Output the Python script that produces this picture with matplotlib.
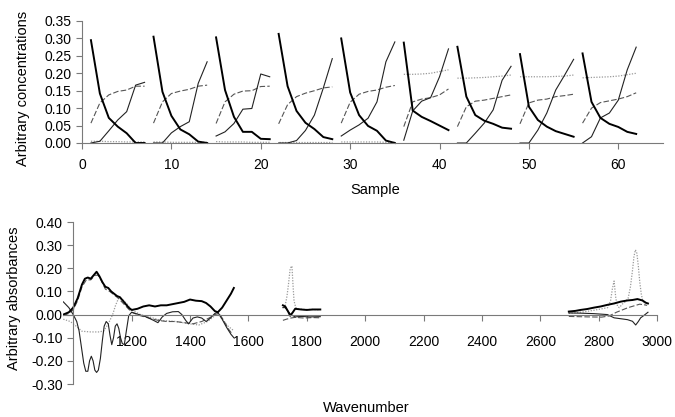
import numpy as np
import matplotlib
matplotlib.use('Agg')
import matplotlib.pyplot as plt
from matplotlib.ticker import FormatStrFormatter

plt.rcParams['font.family'] = ['Liberation Sans', 'DejaVu Sans']
plt.rcParams['axes.unicode_minus'] = False

# --- top panel: concentrations per sample, 9 batches ---
batch_start = [1, 8, 15, 22, 29, 36, 42, 49, 56]

thick_conc = [
    [0.295, 0.142, 0.072, 0.047, 0.028, 0.0, 0.0],
    [0.305, 0.147, 0.078, 0.039, 0.025, 0.004, 0.0],
    [0.303, 0.152, 0.075, 0.032, 0.032, 0.012, 0.011],
    [0.313, 0.163, 0.092, 0.058, 0.040, 0.017, 0.011],
    [0.300, 0.145, 0.080, 0.049, 0.035, 0.007, 0.0],
    [0.288, 0.093, 0.075, 0.063, 0.050, 0.037],
    [0.276, 0.133, 0.080, 0.064, 0.055, 0.044, 0.041],
    [0.255, 0.104, 0.066, 0.047, 0.034, 0.026, 0.018],
    [0.257, 0.118, 0.072, 0.055, 0.046, 0.032, 0.026],
]
dash_conc = [
    [0.057, 0.115, 0.138, 0.148, 0.152, 0.163, 0.163],
    [0.057, 0.118, 0.142, 0.149, 0.154, 0.163, 0.166],
    [0.056, 0.118, 0.140, 0.149, 0.150, 0.162, 0.163],
    [0.055, 0.110, 0.133, 0.143, 0.150, 0.158, 0.161],
    [0.057, 0.117, 0.140, 0.148, 0.152, 0.160, 0.165],
    [0.047, 0.118, 0.126, 0.130, 0.138, 0.155],
    [0.047, 0.104, 0.120, 0.123, 0.128, 0.133, 0.138],
    [0.055, 0.115, 0.123, 0.126, 0.133, 0.136, 0.140],
    [0.057, 0.100, 0.116, 0.121, 0.126, 0.133, 0.144],
]
thin_conc = [
    [0.0, 0.005, 0.035, 0.066, 0.090, 0.166, 0.174],
    [0.0, 0.0, 0.029, 0.047, 0.061, 0.171, 0.233],
    [0.020, 0.032, 0.056, 0.097, 0.099, 0.198, 0.190],
    [0.0, 0.0, 0.007, 0.036, 0.080, 0.158, 0.242],
    [0.020, 0.037, 0.052, 0.071, 0.118, 0.233, 0.290],
    [0.008, 0.092, 0.120, 0.130, 0.190, 0.270],
    [0.0, 0.0, 0.028, 0.057, 0.095, 0.180, 0.220],
    [0.0, 0.0, 0.037, 0.086, 0.152, 0.195, 0.240],
    [0.0, 0.018, 0.072, 0.086, 0.123, 0.210, 0.275],
]
dot_conc = [
    [0.005, 0.005, 0.004, 0.004, 0.003, 0.003, 0.003],
    [0.003, 0.003, 0.002, 0.002, 0.002, 0.002, 0.002],
    [0.004, 0.003, 0.003, 0.003, 0.002, 0.002, 0.002],
    [0.002, 0.002, 0.002, 0.002, 0.002, 0.002, 0.002],
    [0.003, 0.003, 0.003, 0.003, 0.003, 0.002, 0.002],
    [0.197, 0.197, 0.198, 0.200, 0.205, 0.210],
    [0.186, 0.186, 0.187, 0.188, 0.190, 0.192, 0.195],
    [0.190, 0.190, 0.190, 0.190, 0.191, 0.192, 0.195],
    [0.187, 0.188, 0.189, 0.190, 0.192, 0.196, 0.200],
]

# --- bottom panel: spectra in three wavenumber windows ---
thick1_wn = [966, 985, 1000, 1015, 1030, 1040, 1050, 1060, 1070, 1080, 1090, 1100, 1110, 1120,
             1130, 1140, 1150, 1160, 1170, 1180, 1190, 1200, 1220, 1240, 1260, 1280, 1300, 1320,
             1340, 1360, 1380, 1400, 1420, 1440, 1455, 1470, 1485, 1495, 1510, 1525, 1540, 1550]
thick1_ab = [0.0, 0.01, 0.03, 0.07, 0.13, 0.155, 0.16, 0.155, 0.17, 0.185, 0.165, 0.14, 0.12, 0.115,
             0.10, 0.09, 0.08, 0.075, 0.06, 0.045, 0.03, 0.02, 0.025, 0.035, 0.04, 0.035, 0.04, 0.04,
             0.045, 0.05, 0.055, 0.065, 0.06, 0.058, 0.05, 0.035, 0.015, 0.01, 0.03, 0.06, 0.09, 0.115]
thin1_wn = [966, 985, 1000, 1012, 1020, 1028, 1036, 1043, 1050, 1056, 1062, 1068, 1074, 1080,
            1086, 1093, 1100, 1106, 1113, 1120, 1126, 1132, 1138, 1144, 1150, 1156, 1162, 1168,
            1175, 1182, 1190, 1200, 1225, 1250, 1275, 1290, 1305, 1320, 1340, 1360, 1372, 1385,
            1395, 1410, 1425, 1440, 1455, 1470, 1485, 1495, 1510, 1525, 1540, 1550]
thin1_ab = [0.055, 0.03, 0.0, -0.03, -0.07, -0.14, -0.21, -0.245, -0.245, -0.2, -0.18, -0.2, -0.24, -0.25,
            -0.24, -0.19, -0.11, -0.05, -0.03, -0.04, -0.09, -0.13, -0.1, -0.05, -0.04, -0.06, -0.1, -0.125,
            -0.13, -0.07, -0.005, 0.01, 0.0, -0.01, -0.025, -0.035, -0.01, 0.005, 0.012, 0.013, 0.0, -0.025,
            -0.04, -0.015, -0.01, -0.015, -0.03, -0.015, 0.005, 0.01, -0.02, -0.055, -0.085, -0.1]
dash1_wn = [966, 985, 1000, 1015, 1030, 1045, 1060, 1075, 1085, 1095, 1110, 1125, 1140, 1155, 1170,
            1185, 1200, 1230, 1260, 1290, 1320, 1350, 1380, 1410, 1440, 1465, 1485, 1500, 1515, 1530, 1545]
dash1_ab = [-0.005, 0.005, 0.02, 0.06, 0.12, 0.15, 0.15, 0.17, 0.17, 0.15, 0.11, 0.1, 0.085, 0.07, 0.05,
            0.03, 0.01, -0.005, -0.015, -0.025, -0.03, -0.03, -0.035, -0.04, -0.03, -0.015, 0.0, 0.005,
            -0.025, -0.06, -0.085]
dot1_wn = [966, 990, 1010, 1030, 1060, 1090, 1105, 1120, 1135, 1145, 1155, 1170, 1185, 1200, 1230,
           1260, 1300, 1350, 1400, 1430, 1460, 1480, 1495, 1510, 1530, 1550]
dot1_ab = [-0.02, -0.03, -0.05, -0.072, -0.075, -0.075, -0.07, -0.04, 0.0, 0.04, 0.07, 0.065, 0.045, 0.02, 0.0,
           -0.01, -0.025, -0.03, -0.04, -0.045, -0.03, -0.01, 0.005, -0.02, -0.05, -0.07]

thick2_wn = [1718, 1726, 1735, 1743, 1752, 1760, 1780, 1800, 1820, 1846]
thick2_ab = [0.04, 0.035, 0.015, -0.005, 0.01, 0.025, 0.022, 0.02, 0.022, 0.022]
thin2_wn = [1718, 1726, 1735, 1745, 1760, 1780, 1810, 1846]
thin2_ab = [0.03, 0.03, 0.015, 0.0, -0.01, -0.008, -0.01, -0.009]
dash2_wn = [1718, 1730, 1745, 1760, 1790, 1820, 1846]
dash2_ab = [-0.025, -0.02, -0.015, -0.012, -0.015, -0.013, -0.014]
dot2_wn = [1718, 1726, 1732, 1737, 1743, 1749, 1752, 1756, 1762, 1770, 1790, 1820, 1845]
dot2_ab = [0.03, 0.04, 0.08, 0.13, 0.2, 0.21, 0.14, 0.06, 0.03, 0.025, 0.022, 0.022, 0.02]

thick3_wn = [2697, 2720, 2737, 2760, 2783, 2806, 2829, 2852, 2875, 2898, 2915, 2932, 2949, 2961, 2968]
thick3_ab = [0.013, 0.016, 0.02, 0.024, 0.03, 0.035, 0.042, 0.048, 0.056, 0.061, 0.063, 0.067, 0.061, 0.051, 0.048]
thin3_wn = [2697, 2740, 2783, 2829, 2852, 2875, 2898, 2915, 2926, 2935, 2943, 2955, 2968]
thin3_ab = [0.007, 0.006, 0.004, 0.0, -0.014, -0.018, -0.022, -0.029, -0.045, -0.03, -0.014, -0.003, 0.01]
dash3_wn = [2697, 2760, 2810, 2835, 2860, 2900, 2940, 2965]
dash3_ab = [-0.008, -0.01, -0.011, -0.006, 0.01, 0.03, 0.045, 0.04]
dot3_wn = [2697, 2720, 2750, 2780, 2810, 2830, 2840, 2846, 2852, 2858, 2864, 2870, 2880, 2890, 2900,
           2908, 2915, 2920, 2925, 2930, 2935, 2940, 2945, 2950, 2958, 2965]
dot3_ab = [0.005, 0.008, 0.012, 0.018, 0.025, 0.03, 0.06, 0.11, 0.145, 0.07, 0.035, 0.03, 0.045, 0.055, 0.07,
           0.12, 0.19, 0.25, 0.28, 0.265, 0.21, 0.14, 0.09, 0.06, 0.045, 0.04]

styles = {
    'thick': dict(color='black', lw=1.4, ls='-'),
    'thin': dict(color='#222222', lw=0.8, ls='-'),
    'dash': dict(color='#555555', lw=0.8, ls=(0, (5, 2))),
    'dot': dict(color='#9a9a9a', lw=0.9, ls=(0, (1, 1.2))),
}
axis_grey = '#7a7a7a'

fig = plt.figure(figsize=(6.75, 4.17), dpi=100)

# top
ax1 = fig.add_axes([82 / 675, 1 - 143 / 417, 581 / 675, 122 / 417])
for k, start in enumerate(batch_start):
    for name, data in [('dot', dot_conc), ('dash', dash_conc), ('thin', thin_conc), ('thick', thick_conc)]:
        y = data[k]
        x = np.arange(start, start + len(y))
        ax1.plot(x, y, **styles[name], clip_on=False)
ax1.set_xlim(0, 65)
ax1.set_ylim(0, 0.35)
ax1.set_xticks([0, 10, 20, 30, 40, 50, 60])
ax1.set_yticks(np.arange(0, 0.351, 0.05))
ax1.yaxis.set_major_formatter(FormatStrFormatter('%.2f'))
for s in ['top', 'right']:
    ax1.spines[s].set_visible(False)
for s in ['left', 'bottom']:
    ax1.spines[s].set_color(axis_grey)
ax1.tick_params(axis='both', colors=axis_grey, labelcolor='black', labelsize=10, length=4)
ax1.tick_params(axis='x', pad=7)
ax1.set_xlabel('Sample', fontsize=10.5)
ax1.xaxis.set_label_coords(0.505, -0.33)
ax1.set_ylabel('Arbitrary concentrations', fontsize=10.5)
ax1.yaxis.set_label_coords(-0.09, 0.45)

# bottom
ax2 = fig.add_axes([63 / 675, 1 - 384 / 417, 594.3 / 675, 162 / 417])
regions = [
    [('dot', dot1_wn, dot1_ab), ('dash', dash1_wn, dash1_ab), ('thin', thin1_wn, thin1_ab), ('thick', thick1_wn, thick1_ab)],
    [('dot', dot2_wn, dot2_ab), ('dash', dash2_wn, dash2_ab), ('thin', thin2_wn, thin2_ab), ('thick', thick2_wn, thick2_ab)],
    [('dot', dot3_wn, dot3_ab), ('dash', dash3_wn, dash3_ab), ('thin', thin3_wn, thin3_ab), ('thick', thick3_wn, thick3_ab)],
]
for reg in regions:
    for name, wn, ab in reg:
        ax2.plot(wn, ab, **styles[name])
ax2.set_xlim(965, 3000)
ax2.set_ylim(-0.30, 0.40)
ax2.set_xticks(np.arange(1200, 3001, 200))
ax2.set_yticks(np.arange(-0.30, 0.401, 0.10))
ax2.yaxis.set_major_formatter(FormatStrFormatter('%.2f'))
ax2.spines['left'].set_position(('data', 1000))
ax2.spines['bottom'].set_position(('data', 0))
for s in ['top', 'right']:
    ax2.spines[s].set_visible(False)
for s in ['left', 'bottom']:
    ax2.spines[s].set_color(axis_grey)
ax2.tick_params(axis='both', colors=axis_grey, labelcolor='black', labelsize=10, length=4)
ax2.tick_params(axis='x', pad=11)
ax2.set_xlabel('Wavenumber', fontsize=10.5)
ax2.xaxis.set_label_coords(0.51, -0.105)
ax2.set_ylabel('Arbitrary absorbances', fontsize=10.5)
ax2.yaxis.set_label_coords(-0.07, 0.53)

fig.savefig('out.png', dpi=100)
